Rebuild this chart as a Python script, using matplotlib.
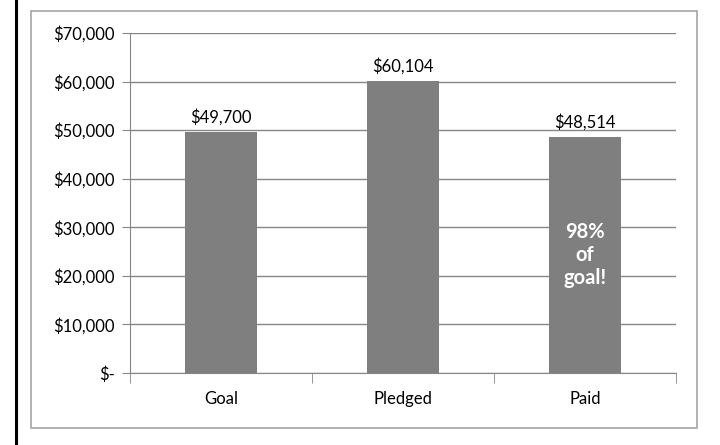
import matplotlib
matplotlib.use("Agg")
import matplotlib.pyplot as plt
from matplotlib.patches import Rectangle
from matplotlib.lines import Line2D

categories = ["Goal", "Pledged", "Paid"]
values = [49700, 60104, 48514]
yticks = [0, 10000, 20000, 30000, 40000, 50000, 60000, 70000]
ytick_labels = ["$-", "$10,000", "$20,000", "$30,000", "$40,000", "$50,000", "$60,000", "$70,000"]
value_labels = ["$49,700", "$60,104", "$48,514"]
note = "98%\nof\ngoal!"

plt.rcParams['font.family'] = ['Lato', 'DejaVu Sans']

W, H = 720, 445
fig = plt.figure(figsize=(7.2, 4.45), dpi=100)

# page edge and chart border
fig.add_artist(Line2D([16 / W, 16 / W], [0, 1], color="black", lw=2.2))
fig.add_artist(Rectangle((31 / W, 1 - 428 / H), (697 - 31) / W, (428 - 11) / H,
                         fill=False, edgecolor="#a6a6a6", lw=1.2))

ax = fig.add_axes([130 / W, 1 - 373 / H, (676 - 130) / W, (373 - 33) / H])
x = list(range(len(categories)))
ax.bar(x, values, width=0.4, color="#7f7f7f", zorder=3)
ax.set_xlim(-0.5, 2.5)
ax.set_ylim(0, 70000)
ax.set_yticks(yticks)
ax.set_yticklabels(ytick_labels, fontsize=12)
ax.set_xticks(x)
ax.set_xticklabels(categories, fontsize=12)
ax.tick_params(axis="x", length=0, pad=13)
ax.tick_params(axis="y", length=6, color="#868686", pad=5)
# minor ticks for x category boundaries
ax.set_xticks([-0.5, 0.5, 1.5, 2.5], minor=True)
ax.tick_params(axis="x", which="minor", length=7, color="#868686", direction="out")
ax.grid(axis="y", color="#868686", lw=1, zorder=0)
for s in ["top", "right"]:
    ax.spines[s].set_visible(False)
ax.spines["left"].set_color("#868686")
ax.spines["bottom"].set_color("#868686")

for xi, v, lab in zip(x, values, value_labels):
    ax.text(xi, v + 1300, lab, ha="center", va="bottom", fontsize=12)

ax.text(2, 24300, note, ha="center", va="center", fontsize=14.5, fontweight="bold",
        color="white", linespacing=1.2, zorder=4)

fig.savefig("out.png", dpi=100)
